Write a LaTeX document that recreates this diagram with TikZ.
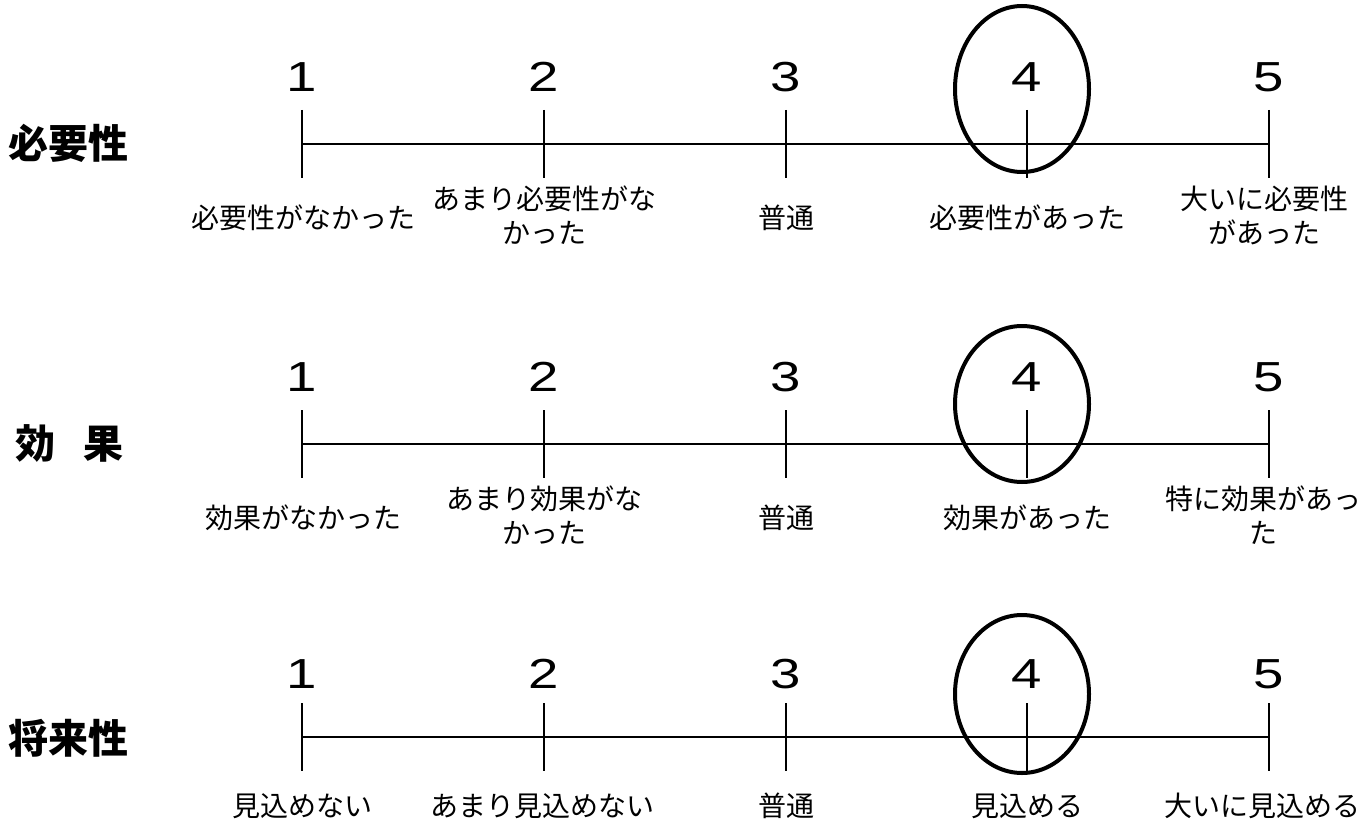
\documentclass[tikz,border=0pt]{standalone}
\usepackage{fontspec}
\setmainfont{Liberation Sans}
\newfontfamily\jp{Noto Sans CJK JP}
\usetikzlibrary{shapes.geometric}
\begin{document}
\begin{tikzpicture}[x=1pt,y=-1pt,
  num/.style={font=\fontsize{42}{42}\selectfont, inner sep=0pt, xscale=1.3},
  lab/.style={font=\jp\fontsize{28}{34}\selectfont, align=center, inner sep=0pt},
  head/.style={font=\jp\bfseries\fontsize{40}{40}\selectfont, inner sep=0pt},
  axis/.style={line width=2.6pt},
  pick/.style={draw, ellipse, line width=4pt, inner sep=0pt, minimum width=134pt}]
\useasboundingbox (0,0) rectangle (1357,821);
\clip (0,0) rectangle (1357,821);
\fill[white] (0,0) rectangle (1357,821);
\foreach \r/\ly/\ny in {1/144/77, 2/444/377, 3/737/674} {
  \foreach \i/\x in {1/302,2/544,3/786,4/1027,5/1269} {
    \coordinate (t\r\i a) at (\x,\ly-34);
    \coordinate (t\r\i b) at (\x,\ly+34);
    \coordinate (c\r\i) at (\x,\ly);
    \draw[axis] (t\r\i a) -- (t\r\i b);
    \node[num] (n\r\i) at (\x,\ny) {\i};
  }
  \draw[axis] (c\r1) -- (c\r5);
}
% ellipses around 4
\node[pick, minimum height=166pt] (e1) at (1022,89) {};
\node[pick, minimum height=156pt] (e2) at (1022,404) {};
\node[pick, minimum height=158pt] (e3) at (1022,694) {};
% headings
\node[head] (h1) at (69,143) {必要性};
\node[head] (h2) at (70,443) {効\hspace{28pt}果};
\node[head] (h3) at (69,738) {将来性};
% row 1 labels
\node[lab] (l11) at (303,218) {必要性がなかった};
\node[lab] (l12) at (544,215) {あまり必要性がな\\かった};
\node[lab] (l13) at (786,218) {普通};
\node[lab] (l14) at (1027,218) {必要性があった};
\node[lab] (l15) at (1264,215) {大いに必要性\\があった};
% row 2 labels
\node[lab] (l21) at (303,518) {効果がなかった};
\node[lab] (l22) at (544,515) {あまり効果がな\\かった};
\node[lab] (l23) at (786,518) {普通};
\node[lab] (l24) at (1027,518) {効果があった};
\node[lab] (l25) at (1263,515) {特に効果があっ\\た};
% row 3 labels
\node[lab] (l31) at (302,806) {見込めない};
\node[lab] (l32) at (542,806) {あまり見込めない};
\node[lab] (l33) at (786,806) {普通};
\node[lab] (l34) at (1027,806) {見込める};
\node[lab] (l35) at (1262,806) {大いに見込める};
\end{tikzpicture}
\end{document}
